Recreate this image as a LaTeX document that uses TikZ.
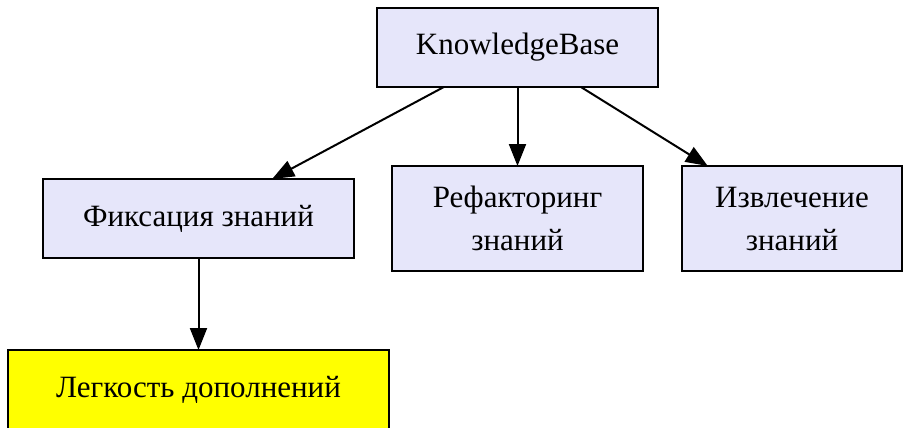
\documentclass[tikz,border=0pt]{standalone}
\usepackage{fontspec}
\setmainfont{Liberation Serif}
\usetikzlibrary{arrows.meta}
\definecolor{lav}{HTML}{E6E6FA}
\definecolor{yel}{HTML}{FFFF00}
\tikzset{
  box/.style={draw=black, line width=2pt, fill=lav, rectangle, inner sep=0pt, outer sep=0pt,
    align=center, font=\fontsize{31}{43}\selectfont},
  hl/.style={box, fill=yel},
  edge/.style={draw=black, line width=2pt, -{Triangle[length=22pt,width=17pt]}}
}
\begin{document}
\begin{tikzpicture}[x=1pt,y=-1pt]
\useasboundingbox (0,0) rectangle (907,428);
\node[box, minimum width=281pt, minimum height=79pt] (kb) at (517.5,47.5) {KnowledgeBase};
\node[box, minimum width=311pt, minimum height=79pt] (fix) at (198.5,218.5) {Фиксация знаний};
\node[box, minimum width=251pt, minimum height=105pt] (ref) at (517.5,218.5) {Рефакторинг\\знаний};
\node[box, minimum width=220pt, minimum height=105pt] (ext) at (792,218.5) {Извлечение\\знаний};
\node[hl, minimum width=381pt, minimum height=79pt] (easy) at (198.5,389.5) {Легкость дополнений};
\draw[edge] (kb) -- (fix);
\draw[edge] (kb) -- (ref);
\draw[edge] (kb) -- (ext);
\draw[edge] (fix) -- (easy);
\end{tikzpicture}
\end{document}
